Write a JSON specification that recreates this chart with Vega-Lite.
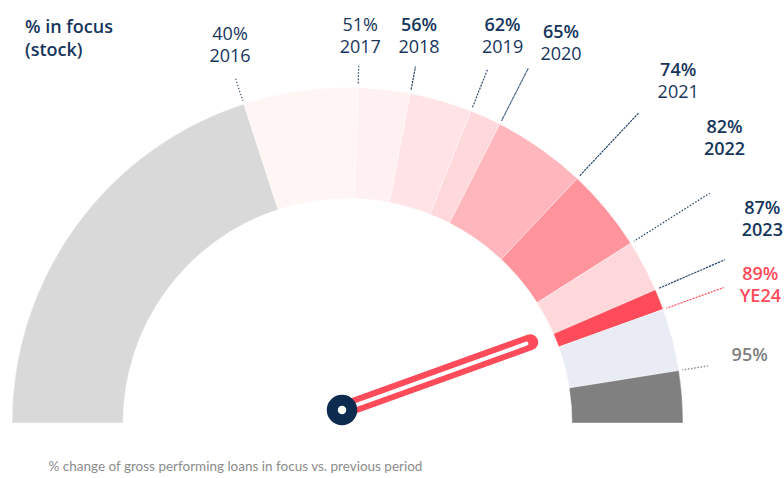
{
  "$schema": "https://vega.github.io/schema/vega-lite/v6.json",
  "width": 784,
  "height": 478,
  "autosize": {"type": "none"},
  "padding": 0,
  "background": "white",
  "config": {"view": {"stroke": null}, "font": "Open Sans"},
  "title": {
    "text": ["% in focus", "(stock)"],
    "anchor": "start",
    "frame": "group",
    "orient": "top",
    "baseline": "top",
    "offset": -60,
    "dx": 25,
    "fontSize": 18,
    "fontWeight": 600,
    "color": "#17365d",
    "font": "Open Sans",
    "lineHeight": 23
  },
  "datasets": {
    "segments": [
      {"seg": "2016", "from": 0.0, "to": 0.40},
      {"seg": "2017", "from": 0.40, "to": 0.51},
      {"seg": "2018", "from": 0.51, "to": 0.56},
      {"seg": "2019", "from": 0.56, "to": 0.62},
      {"seg": "2020", "from": 0.62, "to": 0.65},
      {"seg": "2021", "from": 0.65, "to": 0.74},
      {"seg": "2022", "from": 0.74, "to": 0.82},
      {"seg": "2023", "from": 0.82, "to": 0.87},
      {"seg": "YE24", "from": 0.87, "to": 0.89},
      {"seg": "Target", "from": 0.89, "to": 0.95},
      {"seg": "Rest", "from": 0.95, "to": 1.0}
    ],
    "labels": [
      {"key": "2016", "year": "2016", "pct": 0.40},
      {"key": "2017", "year": "2017", "pct": 0.51},
      {"key": "2018", "year": "2018", "pct": 0.56},
      {"key": "2019", "year": "2019", "pct": 0.62},
      {"key": "2020", "year": "2020", "pct": 0.65},
      {"key": "2021", "year": "2021", "pct": 0.74},
      {"key": "2022", "year": "2022", "pct": 0.82},
      {"key": "2023", "year": "2023", "pct": 0.87},
      {"key": "YE24", "year": "YE24", "pct": 0.89},
      {"key": "Target", "year": "", "pct": 0.95}
    ]
  },
  "encoding": {
    "x": {
      "datum": 0,
      "type": "quantitative",
      "scale": {"domain": [-1.0358, 1.301], "nice": false, "zero": false},
      "axis": {
        "title": "% change of gross performing loans in focus vs. previous period",
        "orient": "bottom",
        "domain": false,
        "ticks": false,
        "labels": false,
        "grid": false,
        "titleAnchor": "start",
        "titleAlign": "left",
        "titleX": 48,
        "titleY": -12,
        "titleBaseline": "middle",
        "titleFont": "Lato",
        "titleFontSize": 13.5,
        "titleFontWeight": "normal",
        "titleColor": "#8c8c8c"
      }
    },
    "y": {
      "datum": 0,
      "type": "quantitative",
      "scale": {"domain": [-0.1639, 1.2608], "nice": false, "zero": false},
      "axis": null
    }
  },
  "layer": [
    {
      "data": {"name": "segments"},
      "mark": {"type": "arc", "radius": 335.5, "radius2": 224.5, "stroke": "white", "strokeWidth": 0.4},
      "encoding": {
        "theta": {"field": "from", "type": "quantitative", "stack": null, "scale": {"domain": [0, 1], "range": [-1.5708, 1.5708]}},
        "theta2": {"field": "to"},
        "color": {
          "field": "seg",
          "type": "nominal",
          "legend": null,
          "scale": {
            "domain": ["2016", "2017", "2018", "2019", "2020", "2021", "2022", "2023", "YE24", "Target", "Rest"],
            "range": ["#d9d9d9", "#fff5f5", "#fff0f1", "#ffe3e6", "#ffd8dc", "#ffb6bc", "#ff949c", "#ffd8dc", "#ff4b5a", "#e9ecf5", "#808080"]
          }
        }
      }
    },
    {
      "data": {"name": "labels"},
      "mark": {"type": "arc", "radius2": 339, "strokeWidth": 1.2, "strokeDash": [1.2, 2], "fillOpacity": 0},
      "encoding": {
        "theta": {"field": "pct", "type": "quantitative", "stack": null, "scale": {"domain": [0, 1], "range": [-1.5708, 1.5708]}},
        "theta2": {"field": "pct"},
        "radius": {
          "field": "pct",
          "type": "quantitative",
          "scale": {"type": "linear", "zero": false, "domain": [0.40, 0.51, 0.56, 0.62, 0.65, 0.74, 0.82, 0.87, 0.89, 0.95], "range": [362, 357, 363, 380, 398, 425, 429, 411, 400, 365]}
        },
        "stroke": {
          "field": "key",
          "type": "nominal",
          "legend": null,
          "scale": {
            "domain": ["2016", "2017", "2018", "2019", "2020", "2021", "2022", "2023", "YE24", "Target"],
            "range": ["#2b4868", "#2b4868", "#2b4868", "#2b4868", "#2b4868", "#2b4868", "#2b4868", "#2b4868", "#ff4b5a", "#8c8c8c"]
          }
        }
      }
    },
    {
      "data": {"name": "labels"},
      "transform": [{"filter": "datum.pct >= 0.55"}],
      "mark": {"type": "text", "dy": -11, "fontSize": 18, "fontWeight": 600, "align": "center", "baseline": "middle"},
      "encoding": {
        "theta": {"field": "pct", "type": "quantitative", "stack": null, "scale": {"type": "linear", "zero": false, "domain": [0.40, 0.51, 0.56, 0.62, 0.65, 0.74, 0.82, 0.87, 0.89, 0.95], "range": [-0.302, 0.033, 0.183, 0.382, 0.513, 0.770, 0.925, 1.115, 1.250, 1.433]}},
        "radius": {"field": "pct", "type": "quantitative", "scale": {"type": "linear", "zero": false, "domain": [0.40, 0.51, 0.56, 0.62, 0.65, 0.74, 0.82, 0.87, 0.89, 0.95], "range": [395, 386, 393, 416, 435, 475, 472, 462, 435, 406]}},
        "text": {"field": "pct", "type": "quantitative", "format": ".0%"},
        "color": {
          "field": "key",
          "type": "nominal",
          "legend": null,
          "scale": {
            "domain": ["2016", "2017", "2018", "2019", "2020", "2021", "2022", "2023", "YE24", "Target"],
            "range": ["#17365d", "#17365d", "#17365d", "#17365d", "#17365d", "#17365d", "#17365d", "#17365d", "#ff4b5a", "#808080"]
          }
        }
      }
    },
    {
      "data": {"name": "labels"},
      "transform": [{"filter": "datum.pct < 0.55"}],
      "mark": {"type": "text", "dy": -11, "fontSize": 18, "fontWeight": "normal", "align": "center", "baseline": "middle"},
      "encoding": {
        "theta": {"field": "pct", "type": "quantitative", "stack": null, "scale": {"type": "linear", "zero": false, "domain": [0.40, 0.51, 0.56, 0.62, 0.65, 0.74, 0.82, 0.87, 0.89, 0.95], "range": [-0.302, 0.033, 0.183, 0.382, 0.513, 0.770, 0.925, 1.115, 1.250, 1.433]}},
        "radius": {"field": "pct", "type": "quantitative", "scale": {"type": "linear", "zero": false, "domain": [0.40, 0.51, 0.56, 0.62, 0.65, 0.74, 0.82, 0.87, 0.89, 0.95], "range": [395, 386, 393, 416, 435, 475, 472, 462, 435, 406]}},
        "text": {"field": "pct", "type": "quantitative", "format": ".0%"},
        "color": {"value": "#17365d"}
      }
    },
    {
      "data": {"name": "labels"},
      "transform": [{"filter": "datum.pct >= 0.8 && datum.year != ''"}],
      "mark": {"type": "text", "dy": 11, "fontSize": 18, "fontWeight": 600, "align": "center", "baseline": "middle"},
      "encoding": {
        "theta": {"field": "pct", "type": "quantitative", "stack": null, "scale": {"type": "linear", "zero": false, "domain": [0.40, 0.51, 0.56, 0.62, 0.65, 0.74, 0.82, 0.87, 0.89, 0.95], "range": [-0.302, 0.033, 0.183, 0.382, 0.513, 0.770, 0.925, 1.115, 1.250, 1.433]}},
        "radius": {"field": "pct", "type": "quantitative", "scale": {"type": "linear", "zero": false, "domain": [0.40, 0.51, 0.56, 0.62, 0.65, 0.74, 0.82, 0.87, 0.89, 0.95], "range": [395, 386, 393, 416, 435, 475, 472, 462, 435, 406]}},
        "text": {"field": "year", "type": "nominal"},
        "color": {
          "field": "key",
          "type": "nominal",
          "legend": null,
          "scale": {
            "domain": ["2016", "2017", "2018", "2019", "2020", "2021", "2022", "2023", "YE24", "Target"],
            "range": ["#17365d", "#17365d", "#17365d", "#17365d", "#17365d", "#17365d", "#17365d", "#17365d", "#ff4b5a", "#808080"]
          }
        }
      }
    },
    {
      "data": {"name": "labels"},
      "transform": [{"filter": "datum.pct < 0.8"}],
      "mark": {"type": "text", "dy": 11, "fontSize": 18, "fontWeight": "normal", "align": "center", "baseline": "middle"},
      "encoding": {
        "theta": {"field": "pct", "type": "quantitative", "stack": null, "scale": {"type": "linear", "zero": false, "domain": [0.40, 0.51, 0.56, 0.62, 0.65, 0.74, 0.82, 0.87, 0.89, 0.95], "range": [-0.302, 0.033, 0.183, 0.382, 0.513, 0.770, 0.925, 1.115, 1.250, 1.433]}},
        "radius": {"field": "pct", "type": "quantitative", "scale": {"type": "linear", "zero": false, "domain": [0.40, 0.51, 0.56, 0.62, 0.65, 0.74, 0.82, 0.87, 0.89, 0.95], "range": [395, 386, 393, 416, 435, 475, 472, 462, 435, 406]}},
        "text": {"field": "year", "type": "nominal"},
        "color": {"value": "#17365d"}
      }
    },
    {
      "data": {"name": "labels"},
      "transform": [{"filter": "datum.key == 'YE24'"}],
      "mark": {"type": "arc", "radius": 200, "radius2": 0, "stroke": "#ff4b5a", "strokeWidth": 16, "strokeJoin": "round", "strokeCap": "round", "fillOpacity": 0},
      "encoding": {
        "x": {"datum": -0.0164, "type": "quantitative", "scale": {"domain": [-1.0358, 1.301], "nice": false, "zero": false}},
        "y": {"datum": 0.0387, "type": "quantitative", "scale": {"domain": [-0.1639, 1.2608], "nice": false, "zero": false}},
        "theta": {"field": "pct", "type": "quantitative", "stack": null, "scale": {"domain": [0, 1], "range": [-1.5708, 1.5708]}},
        "theta2": {"field": "pct"}
      }
    },
    {
      "data": {"name": "labels"},
      "transform": [{"filter": "datum.key == 'YE24'"}],
      "mark": {"type": "arc", "radius": 196, "radius2": 0, "stroke": "white", "strokeWidth": 4, "strokeJoin": "round", "strokeCap": "round", "fillOpacity": 0},
      "encoding": {
        "x": {"datum": -0.0164, "type": "quantitative", "scale": {"domain": [-1.0358, 1.301], "nice": false, "zero": false}},
        "y": {"datum": 0.0387, "type": "quantitative", "scale": {"domain": [-0.1639, 1.2608], "nice": false, "zero": false}},
        "theta": {"field": "pct", "type": "quantitative", "stack": null, "scale": {"domain": [0, 1], "range": [-1.5708, 1.5708]}},
        "theta2": {"field": "pct"}
      }
    },
    {
      "data": {"name": "labels"},
      "transform": [{"filter": "datum.key == 'YE24'"}],
      "mark": {"type": "point", "shape": "circle", "size": 380, "filled": false, "fill": "white", "fillOpacity": 1, "stroke": "#0d2b4e", "strokeWidth": 11, "opacity": 1},
      "encoding": {
        "x": {"datum": -0.0164, "type": "quantitative", "scale": {"domain": [-1.0358, 1.301], "nice": false, "zero": false}},
        "y": {"datum": 0.0387, "type": "quantitative", "scale": {"domain": [-0.1639, 1.2608], "nice": false, "zero": false}}
      }
    }
  ],
  "resolve": {"scale": {"theta": "independent", "radius": "independent", "color": "independent", "stroke": "independent"}}
}
